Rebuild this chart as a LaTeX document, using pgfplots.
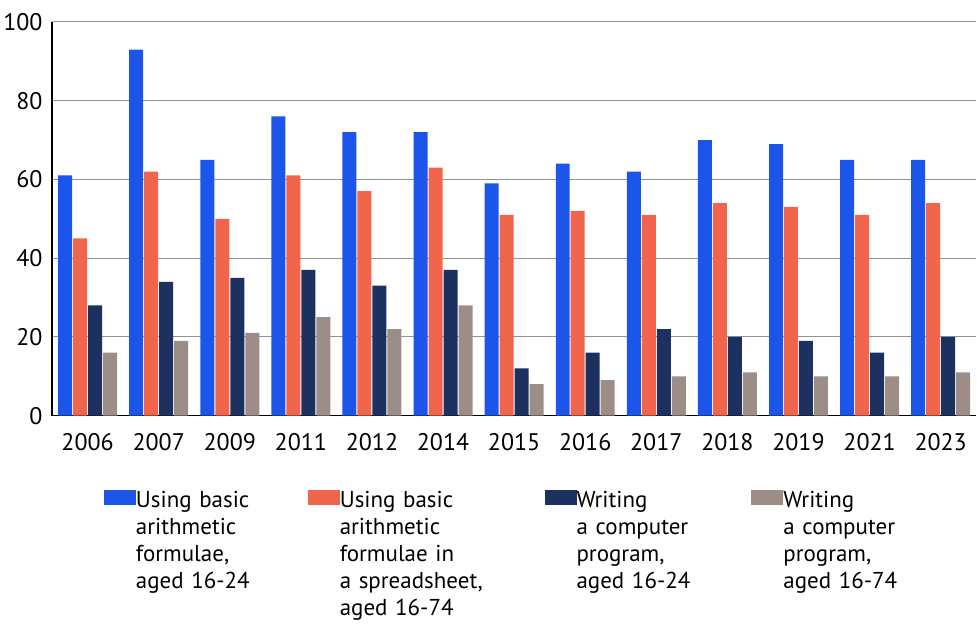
\documentclass[border=0pt]{standalone}
\usepackage{pgfplots}
\pgfplotsset{compat=1.18}
\usepackage{fontspec}
\setmainfont{PT Sans}

\definecolor{cblue}{HTML}{1B55E9}
\definecolor{corange}{HTML}{F2654D}
\definecolor{cnavy}{HTML}{1C3160}
\definecolor{cgrey}{HTML}{9C8E86}

% x: 0=2006 1=2007 2=2009 3=2011 4=2012 5=2014 6=2015 7=2016 8=2017 9=2018 10=2019 11=2021 12=2023
\pgfplotsset{
  sqlegend/.style={legend image code/.code={
    \path (0pt,0pt) rectangle (32pt,15pt);
    \fill[##1] (0pt,0pt) rectangle (22pt,15pt);}}
}

\begin{document}
\begin{tikzpicture}
\begin{axis}[
  scale only axis,
  width=925pt, height=394pt,
  ybar=1pt, bar width=14pt,
  xmin=-0.5, xmax=12.5,
  ymin=0, ymax=100,
  ytick={0,20,40,60,80,100},
  xtick=data,
  xticklabels={2006,2007,2009,2011,2012,2014,2015,2016,2017,2018,2019,2021,2023},
  major tick length=0pt,
  axis x line*=bottom, axis y line*=left,
  axis line style={-, black, line width=1.6pt},
  ymajorgrids,
  major grid style={draw=gray!85, line width=1pt},
  /pgf/number format/assume math mode=true,
  tick label style={font=\fontsize{24}{28}\selectfont},
  yticklabel style={xshift=-6pt},
  xticklabel style={yshift=-14pt},
  legend columns=4,
  legend cell align=left,
  legend style={draw=none, fill=none, inner sep=0pt, outer sep=0pt,
    at={(0.0562,-0.19)}, anchor=north west,
    column sep=0pt, row sep=0pt,
    nodes={inner sep=0pt, align=left, font=\fontsize{23}{27}\selectfont},
    /tikz/column 2/.style={nodes={text width=172pt, yshift=5pt}},
    /tikz/column 4/.style={nodes={text width=205pt, yshift=5pt}},
    /tikz/column 6/.style={nodes={text width=175pt, yshift=5pt}},
    /tikz/column 8/.style={nodes={text width=180pt, yshift=5pt}}},
]
\addplot[fill=cblue, draw=none, sqlegend] coordinates {
(0,61)(1,93)(2,65)(3,76)(4,72)(5,72)(6,59)(7,64)(8,62)(9,70)(10,69)(11,65)(12,65)};
\addplot[fill=corange, draw=none, sqlegend] coordinates {
(0,45)(1,62)(2,50)(3,61)(4,57)(5,63)(6,51)(7,52)(8,51)(9,54)(10,53)(11,51)(12,54)};
\addplot[fill=cnavy, draw=none, sqlegend] coordinates {
(0,28)(1,34)(2,35)(3,37)(4,33)(5,37)(6,12)(7,16)(8,22)(9,20)(10,19)(11,16)(12,20)};
\addplot[fill=cgrey, draw=none, sqlegend] coordinates {
(0,16)(1,19)(2,21)(3,25)(4,22)(5,28)(6,8)(7,9)(8,10)(9,11)(10,10)(11,10)(12,11)};
\legend{
  {Using basic\\arithmetic\\formulae,\\aged 16-24},
  {Using basic\\arithmetic\\formulae in\\a spreadsheet,\\aged 16-74},
  {Writing\\a computer\\program,\\aged 16-24},
  {Writing\\a computer\\program,\\aged 16-74}}
\end{axis}
\path (current axis.north west) ++(0pt,22pt);
\path (current axis.south west) ++(0pt,-208pt);
\end{tikzpicture}
\end{document}
